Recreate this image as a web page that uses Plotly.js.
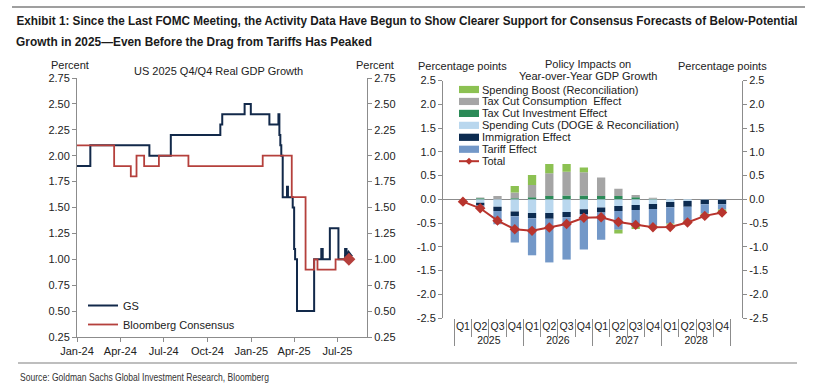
<!DOCTYPE html>
<html>
<head>
<meta charset="utf-8">
<script src="https://cdn.plot.ly/plotly-3.0.1.min.js"></script>
<style>
html,body{margin:0;padding:0;background:#fff;}
#chart{width:816px;height:387px;}
</style>
</head>
<body>
<div id="chart"></div>
<script>
// ---------- Left panel data: US 2025 Q4/Q4 Real GDP Growth forecasts (step series) ----------
const gsDates = ['2024-01-01','2024-01-29','2024-06-01','2024-07-16','2024-10-28','2024-11-01','2024-12-18','2024-12-31',
  '2025-02-08','2025-02-27','2025-03-01','2025-03-03','2025-03-05','2025-03-08','2025-03-17','2025-03-19','2025-03-29',
  '2025-04-01','2025-04-03','2025-04-07','2025-05-13','2025-05-28','2025-05-31','2025-06-15','2025-07-03','2025-07-17',
  '2025-07-20','2025-07-24'];
const gsValues = [1.90,2.10,2.00,2.20,2.30,2.40,2.50,2.40,
  2.30,2.40,2.20,2.10,2.00,1.60,1.70,1.60,1.50,
  1.10,1.00,0.50,1.00,1.10,1.00,1.30,1.00,1.10,
  1.05,1.05];
const bbgDates = ['2024-01-01','2024-03-19','2024-04-23','2024-05-05','2024-05-21','2024-06-21','2024-08-22','2025-01-25',
  '2025-03-27','2025-04-25','2025-05-13','2025-05-20','2025-06-27','2025-07-25'];
const bbgValues = [2.10,1.90,1.80,2.00,1.90,2.00,1.90,2.00,
  1.60,0.90,1.00,0.90,1.00,1.00];

// ---------- Right panel data: Policy impacts on YoY GDP growth (pp) ----------
const years = ['2025','2025','2025','2025','2026','2026','2026','2026','2027','2027','2027','2027','2028','2028','2028','2028'];
const quarters = ['Q1','Q2','Q3','Q4','Q1','Q2','Q3','Q4','Q1','Q2','Q3','Q4','Q1','Q2','Q3','Q4'];
const spendingBoost     = [0, 0, 0, 0.14, 0.21, 0.19, 0.16, 0.10, 0, -0.08, -0.05, -0.04, -0.02, -0.03, -0.055, -0.06];
const taxCutConsumption = [0, 0.015, 0.07, 0.12, 0.26, 0.48, 0.50, 0.49, 0.39, 0.15, 0.05, 0.02, 0, 0, 0, 0];
const taxCutInvestment  = [0, 0.02, 0, 0.02, 0.04, 0.07, 0.08, 0.08, 0.07, 0.07, 0.04, 0.01, 0, 0, 0, 0];
const spendingCuts      = [0, -0.075, -0.16, -0.26, -0.29, -0.29, -0.27, -0.21, -0.175, -0.14, -0.12, -0.10, -0.06, -0.035, -0.01, -0.01];
const immigration       = [0, -0.055, -0.085, -0.10, -0.11, -0.12, -0.11, -0.10, -0.105, -0.105, -0.105, -0.105, -0.11, -0.125, -0.095, -0.095];
const tariff            = [0, -0.045, -0.28, -0.55, -0.78, -0.92, -0.89, -0.75, -0.57, -0.395, -0.35, -0.34, -0.34, -0.28, -0.195, -0.11];
const total             = [-0.05, -0.19, -0.45, -0.63, -0.665, -0.595, -0.52, -0.39, -0.38, -0.48, -0.54, -0.59, -0.585, -0.49, -0.35, -0.28];
const ppTickVals = [-2.5, -2.0, -1.5, -1.0, -0.5, 0.0, 0.5, 1.0, 1.5, 2.0, 2.5];
const ppTickText = ['-2.5', '-2.0', '-1.5', '-1.0', '-0.5', '0.0', '0.5', '1.0', '1.5', '2.0', '2.5'];

// ---------- Styling ----------
const W = 816, H = 387;
const X = p => p / W;
const Y = p => 1 - p / H;
const FONT = "'Liberation Sans', Arial, sans-serif";
const NARROW = "'Liberation Sans Narrow', 'Liberation Sans', Arial, sans-serif";
const TXT = '#222222';
const AX = '#8c8c8c';
const C = {
  gs: '#12294a', bbg: '#b5403c',
  boost: '#8cc152', cons: '#a5a5a5', inv: '#2b8a57',
  cuts: '#b9d7ee', imm: '#0c2b50', tariff: '#7398c8', total: '#b8342d'
};

const mcX = [years, quarters];
const bar = (name, vals, color) => ({
  type: 'bar', name: name, x: mcX, y: vals, xaxis: 'x3', yaxis: 'y3',
  marker: {color: color, line: {width: 0}}, showlegend: false, hoverinfo: 'name+y'
});

const traces = [
  {type: 'scatter', mode: 'lines', name: 'GS', x: gsDates, y: gsValues, line: {shape: 'hv', color: C.gs, width: 2}, xaxis: 'x', yaxis: 'y'},
  {type: 'scatter', mode: 'lines', name: 'Bloomberg Consensus', x: bbgDates, y: bbgValues, line: {shape: 'hv', color: C.bbg, width: 1.8}, xaxis: 'x', yaxis: 'y'},
  {type: 'scatter', mode: 'markers', x: [gsDates[gsDates.length-1]], y: [gsValues[gsValues.length-1]], marker: {symbol: 'triangle-up', size: 8, color: C.gs}, showlegend: false, xaxis: 'x', yaxis: 'y'},
  {type: 'scatter', mode: 'markers', x: [bbgDates[bbgDates.length-1]], y: [bbgValues[bbgValues.length-1]], marker: {symbol: 'diamond', size: 10, color: C.bbg}, showlegend: false, xaxis: 'x', yaxis: 'y'},
  {type: 'scatter', mode: 'lines', x: [gsDates[0]], y: [gsValues[0]], showlegend: false, hoverinfo: 'skip', line: {width: 0}, xaxis: 'x', yaxis: 'y2'},
  bar('Spending Cuts (DOGE & Reconciliation)', spendingCuts, C.cuts),
  bar('Immigration Effect', immigration, C.imm),
  bar('Tariff Effect', tariff, C.tariff),
  bar('Tax Cut Investment Effect', taxCutInvestment, C.inv),
  bar('Tax Cut Consumption  Effect', taxCutConsumption, C.cons),
  bar('Spending Boost (Reconciliation)', spendingBoost, C.boost),
  {type: 'scatter', mode: 'lines+markers', name: 'Total', x: mcX, y: total, xaxis: 'x3', yaxis: 'y3',
   line: {color: C.total, width: 2}, marker: {symbol: 'diamond', size: 8, color: C.total}, showlegend: false},
  {type: 'scatter', mode: 'lines', x: mcX, y: total, xaxis: 'x3', yaxis: 'y4', showlegend: false, hoverinfo: 'skip', line: {width: 0}}
];

const yAxisBase = {showgrid: false, zeroline: false, showline: true, linecolor: AX, linewidth: 1,
  ticks: 'outside', ticklen: 4, tickcolor: AX, tickfont: {family: FONT, size: 11, color: TXT}};

// custom compact legend for right panel
const legendItems = [
  {name: 'Spending Boost (Reconciliation)', color: C.boost},
  {name: 'Tax Cut Consumption  Effect', color: C.cons},
  {name: 'Tax Cut Investment Effect', color: C.inv},
  {name: 'Spending Cuts (DOGE & Reconciliation)', color: C.cuts},
  {name: 'Immigration Effect', color: C.imm},
  {name: 'Tariff Effect', color: C.tariff},
  {name: 'Total', color: C.total, line: true}
];
const shapes = [
  {type: 'line', xref: 'paper', yref: 'paper', x0: X(12), x1: X(805), y0: Y(7), y1: Y(7), line: {color: '#7f7f7f', width: 1.5}},
  {type: 'line', xref: 'paper', yref: 'paper', x0: X(18), x1: X(797), y0: Y(363), y1: Y(363), line: {color: '#7f7f7f', width: 1.2}}
];
const TITLE1 = 'Exhibit 1: Since the Last FOMC Meeting, the Activity Data Have Begun to Show Clearer Support for Consensus Forecasts of Below-Potential';
const TITLE2 = 'Growth in 2025\u2014Even Before the Drag from Tariffs Has Peaked';
const SOURCE = 'Source: Goldman Sachs Global Investment Research, Bloomberg';
const annotations = [
  {text: '<b>' + TITLE1 + '</b>', x: X(14), y: Y(21), xanchor: 'left', yanchor: 'middle', font: {family: NARROW, size: 13.5, color: '#1a1a1a'}},
  {text: '<b>' + TITLE2 + '</b>', x: X(14), y: Y(42), xanchor: 'left', yanchor: 'middle', font: {family: NARROW, size: 13.5, color: '#1a1a1a'}},
  {text: SOURCE, x: X(18), y: Y(377), xanchor: 'left', yanchor: 'middle', font: {family: NARROW, size: 10, color: '#333'}},
  {text: 'Percent', x: X(70), y: Y(65), xanchor: 'center', yanchor: 'middle', font: {family: FONT, size: 11, color: TXT}},
  {text: 'Percent', x: X(375), y: Y(65), xanchor: 'center', yanchor: 'middle', font: {family: FONT, size: 11, color: TXT}},
  {text: 'US 2025 Q4/Q4 Real GDP Growth', x: X(218), y: Y(71), xanchor: 'center', yanchor: 'middle', font: {family: FONT, size: 11, color: TXT}},
  {text: 'Percentage points', x: X(462), y: Y(66), xanchor: 'center', yanchor: 'middle', font: {family: FONT, size: 11, color: TXT}},
  {text: 'Percentage points', x: X(722), y: Y(66), xanchor: 'center', yanchor: 'middle', font: {family: FONT, size: 11, color: TXT}},
  {text: 'Policy Impacts on', x: X(588), y: Y(64), xanchor: 'center', yanchor: 'middle', font: {family: FONT, size: 11, color: TXT}},
  {text: 'Year-over-Year GDP Growth', x: X(588), y: Y(76), xanchor: 'center', yanchor: 'middle', font: {family: FONT, size: 11, color: TXT}}
];
legendItems.forEach((it, i) => {
  const cy = 89.5 + i * 11.95;
  if (it.line) {
    shapes.push({type: 'line', xref: 'paper', yref: 'paper', x0: X(459), x1: X(479), y0: Y(cy), y1: Y(cy), line: {color: it.color, width: 2}});
    const d = 3.5;
    shapes.push({type: 'path', xref: 'paper', yref: 'paper', fillcolor: it.color, line: {width: 0},
      path: `M${X(469)},${Y(cy-d)} L${X(469+d)},${Y(cy)} L${X(469)},${Y(cy+d)} L${X(469-d)},${Y(cy)} Z`});
  } else {
    shapes.push({type: 'rect', xref: 'paper', yref: 'paper', x0: X(459), x1: X(479), y0: Y(cy+3.6), y1: Y(cy-3.6), fillcolor: it.color, line: {width: 0}});
  }
  annotations.push({text: it.name, x: X(480), y: Y(cy), xanchor: 'left', yanchor: 'middle', showarrow: false,
    font: {family: FONT, size: 11, color: TXT}});
});
annotations.forEach(a => { a.xref = 'paper'; a.yref = 'paper'; a.showarrow = false; });

const layout = {
  width: W, height: H,
  margin: {l: 0, r: 0, t: 0, b: 0},
  paper_bgcolor: '#fff', plot_bgcolor: 'rgba(0,0,0,0)',
  font: {family: FONT, size: 11, color: TXT},
  barmode: 'relative', bargap: 0.52,
  showlegend: true,
  legend: {x: X(83), y: Y(291), xanchor: 'left', yanchor: 'top', bgcolor: 'rgba(0,0,0,0)',
           font: {family: FONT, size: 11, color: TXT}, tracegroupgap: 0, itemwidth: 30},
  xaxis: {domain: [X(77), X(367)], anchor: 'y', type: 'date', range: ['2024-01-01', '2025-09-01'],
          tick0: '2024-01-01', dtick: 'M3', tickformat: '%b-%y', ticks: 'outside', ticklen: 4, tickcolor: AX,
          showline: true, linecolor: AX, showgrid: false, zeroline: false,
          tickfont: {family: FONT, size: 11, color: TXT}},
  yaxis: Object.assign({}, yAxisBase, {domain: [Y(337), Y(78)], anchor: 'x', range: [0.25, 2.75], dtick: 0.25, tick0: 0.25, tickformat: '.2f'}),
  yaxis2: Object.assign({}, yAxisBase, {overlaying: 'y', side: 'right', anchor: 'x', range: [0.25, 2.75], dtick: 0.25, tick0: 0.25, tickformat: '.2f'}),
  xaxis3: {domain: [X(443), X(742)], anchor: 'y3', type: 'multicategory', tickangle: 0, ticks: 'outside', ticklen: 18, tickcolor: AX,
           showdividers: true, dividercolor: AX, dividerwidth: 1, showline: false, showgrid: false, zeroline: false,
           tickfont: {family: FONT, size: 10.5, color: TXT}},
  yaxis3: Object.assign({}, yAxisBase, {domain: [Y(318), Y(80.5)], anchor: 'x3', range: [-2.5, 2.5],
           tickmode: 'array', tickvals: ppTickVals, ticktext: ppTickText,
           zeroline: true, zerolinecolor: AX, zerolinewidth: 1}),
  yaxis4: Object.assign({}, yAxisBase, {overlaying: 'y3', side: 'right', anchor: 'x3', range: [-2.5, 2.5],
           tickmode: 'array', tickvals: ppTickVals, ticktext: ppTickText}),
  shapes: shapes,
  annotations: annotations
};

// fit some long texts to the reference widths (keeps them as real text, squeezed horizontally)
const fitWidths = [[TITLE1, 782], [TITLE2, 356], [SOURCE, 249]];
function fitTexts() {
  document.querySelectorAll('#chart .annotation-text').forEach(el => {
    const t = el.textContent;
    fitWidths.forEach(([s, w]) => {
      if (t === s) {
        const bb = el.getBBox();
        if (bb.width > 0) {
          const k = w / bb.width;
          const prev = el.getAttribute('transform') || '';
          el.setAttribute('transform', `${prev} translate(${bb.x},0) scale(${k},1) translate(${-bb.x},0)`);
        }
      }
    });
  });
}
Plotly.newPlot('chart', traces, layout, {displayModeBar: false, staticPlot: true}).then(fitTexts);
</script>
</body>
</html>
